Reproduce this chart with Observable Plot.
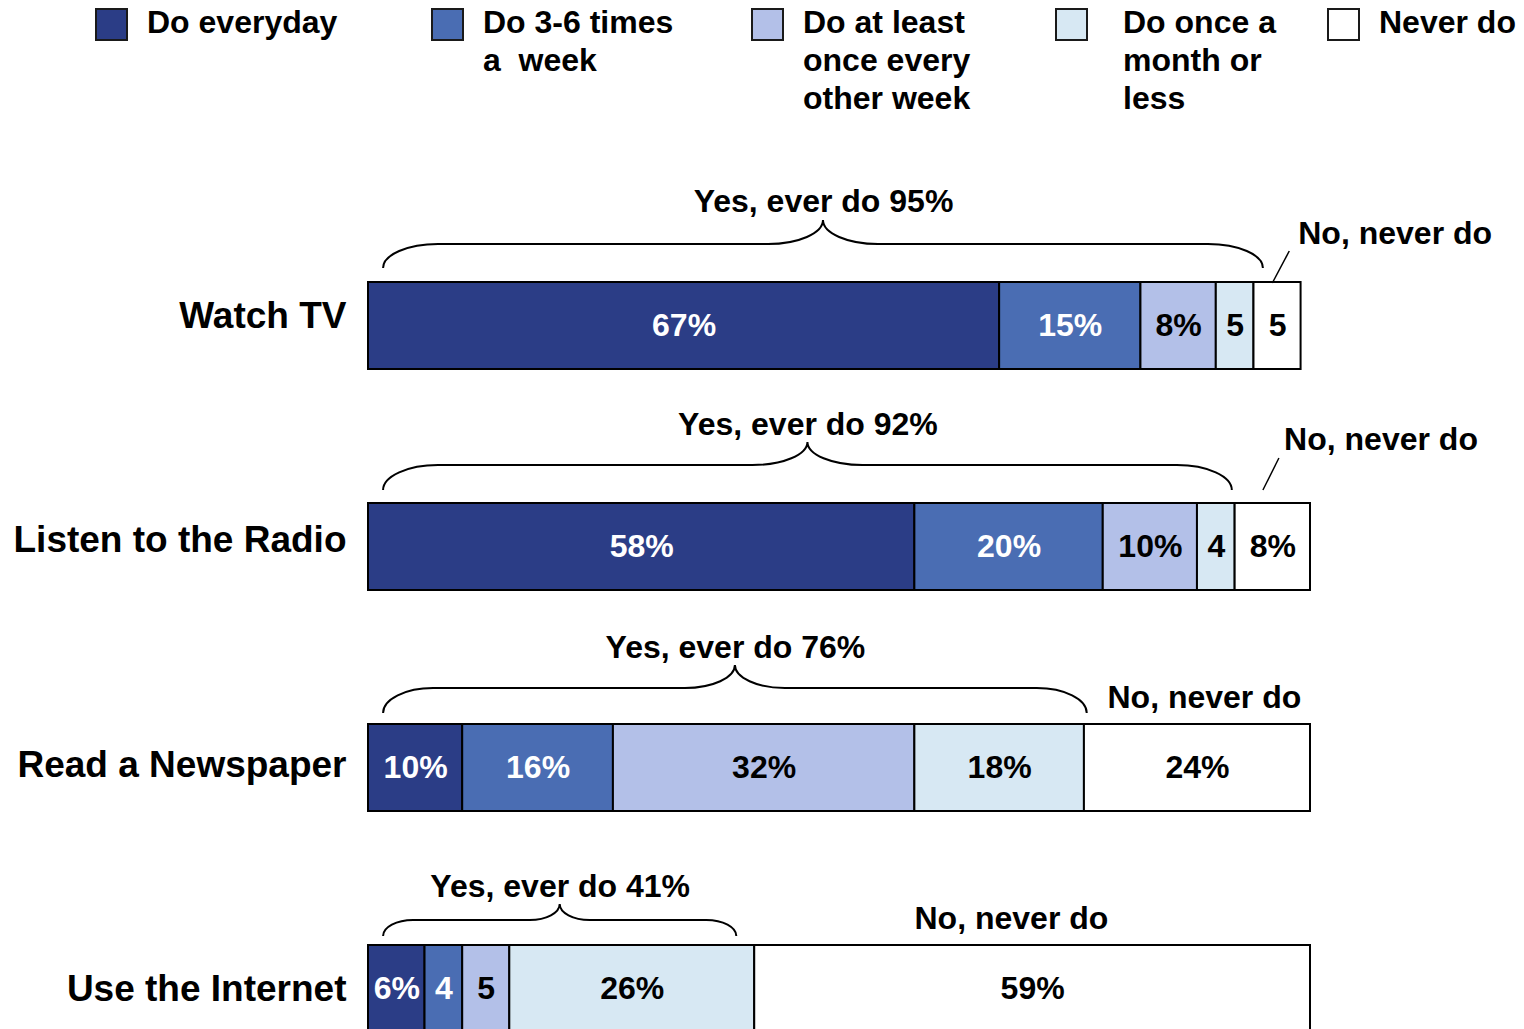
<!DOCTYPE html>
<html>
<head>
<meta charset="utf-8">
<script src="https://cdn.jsdelivr.net/npm/d3@7"></script>
<script src="https://cdn.jsdelivr.net/npm/@observablehq/plot@0.6"></script>
<style>
  html, body { margin: 0; padding: 0; background: #fff; overflow: hidden; }
  body { font-family: "Liberation Sans", Arial, sans-serif; font-weight: bold; color: #000; }
  #legend { position: relative; width: 1524px; height: 130px; }
  .sw { position: absolute; top: 8px; width: 33px; height: 33px; box-sizing: border-box; border: 2px solid #1a1a1a; }
  .lb { position: absolute; top: 3px; font-size: 32px; line-height: 38px; white-space: pre; }
  #chart svg { display: block; }
</style>
</head>
<body>
<div id="legend"></div>
<div id="chart"></div>
<script>
// ---------------- DATA ----------------
const categories = ["Watch TV", "Listen to the Radio", "Read a Newspaper", "Use the Internet"];
const frequencies = ["Do everyday", "Do 3-6 times a week", "Do at least once every other week", "Do once a month or less", "Never do"];
const legendLines = [
  ["Do everyday"],
  ["Do 3-6 times", "a  week"],
  ["Do at least", "once every", "other week"],
  ["Do once a", "month or", "less"],
  ["Never do"]
];
const doEveryday     = [67, 58, 10, 6];
const do3to6Times    = [15, 20, 16, 4];
const everyOtherWeek = [8, 10, 32, 5];
const monthlyOrLess  = [4, 4, 18, 26];
const neverDo        = [5, 8, 24, 59];

const everydayLabels  = ["67%", "58%", "10%", "6%"];
const do3to6Labels    = ["15%", "20%", "16%", "4"];
const otherWeekLabels = ["8%", "10%", "32%", "5"];
const monthlyLabels   = ["5", "4", "18%", "26%"];
const neverLabels     = ["5", "8%", "24%", "59%"];

const yesEverDo = [95, 92, 76, 41];
const neverText = "No, never do";

const colors = ["#2b3d86", "#4a6db3", "#b3c0e8", "#d7e8f3", "#ffffff"];

// ---------------- LAYOUT ----------------
const FONT = '"Liberation Sans", Arial, sans-serif';
const swatchLeft = [95, 431, 751, 1055, 1327];
const labelLeft  = [147, 483, 803, 1123, 1379];

// brace / annotation geometry per row (x in % units, y offsets in px from bar top)
const annot = [
  {from: 1.6, to: 95.0, end: -14, line: -38, tip: -62, rx: 55, yesDy: -81, noX: 98.7,  noAnchor: "start",  noDy: -49, slash: [97.8, -31, 96.0, 1]},
  {from: 1.6, to: 91.7, end: -13, line: -38, tip: -61, rx: 55, yesDy: -79, noX: 97.2,  noAnchor: "start",  noDy: -64, slash: [96.7, -45, 95.0, -13]},
  {from: 1.6, to: 76.3, end: -11, line: -36, tip: -59, rx: 50, yesDy: -77, noX: 78.45, noAnchor: "start",  noDy: -27, slash: null},
  {from: 1.6, to: 39.1, end: -9,  line: -25, tip: -41, rx: 30, yesDy: -59, noX: 68.25, noAnchor: "middle", noDy: -27, slash: null}
];
const catDy = [-10, -7, -3, 0];

// ---------------- LEGEND ----------------
const legend = document.getElementById("legend");
frequencies.forEach((f, j) => {
  const sw = document.createElement("div");
  sw.className = "sw";
  sw.style.left = swatchLeft[j] + "px";
  sw.style.background = colors[j];
  legend.appendChild(sw);
  const lb = document.createElement("div");
  lb.className = "lb";
  lb.style.left = labelLeft[j] + "px";
  lb.textContent = legendLines[j].join("\n");
  legend.appendChild(lb);
});

// ---------------- TABLE ----------------
const seriesValues = [doEveryday, do3to6Times, everyOtherWeek, monthlyOrLess, neverDo];
const seriesLabels = [everydayLabels, do3to6Labels, otherWeekLabels, monthlyLabels, neverLabels];
const rows = [];
categories.forEach((c, i) => {
  frequencies.forEach((f, j) => {
    rows.push({category: c, frequency: f, value: seriesValues[j][i], label: seriesLabels[j][i], light: j >= 2});
  });
});

const yRange = [150, 903];
const padInner = 0.608;
const step = (yRange[1] - yRange[0]) / (categories.length - padInner);
const bw = step * (1 - padInner);

function bracePath(x0, x1, yE, yL, yT, rx) {
  const xm = (x0 + x1) / 2, h1 = yE - yL, h2 = yL - yT;
  return `M${x0},${yE} A${rx},${h1} 0 0 1 ${x0 + rx},${yL} H${xm - rx} A${rx},${h2} 0 0 0 ${xm},${yT} ` +
         `A${rx},${h2} 0 0 0 ${xm + rx},${yL} H${x1 - rx} A${rx},${h1} 0 0 1 ${x1},${yE}`;
}

function annotationLayer(index, scales) {
  const sc = (index && typeof index.x === "function") ? index : scales;
  const g = d3.create("svg:g").attr("fill", "none").attr("stroke", "#000").attr("stroke-width", 2);
  annot.forEach((a, i) => {
    const top = sc.y(categories[i]);
    const x0 = sc.x(a.from), x1 = sc.x(a.to);
    const rx = Math.min(a.rx, (x1 - x0) / 5);
    g.append("path").attr("d", bracePath(x0, x1, top + a.end, top + a.line, top + a.tip, rx));
    if (a.slash) {
      g.append("line")
        .attr("x1", sc.x(a.slash[0])).attr("y1", top + a.slash[1])
        .attr("x2", sc.x(a.slash[2])).attr("y2", top + a.slash[3])
        .attr("stroke-width", 1.5);
    }
  });
  return g.node();
}

const marks = [
  Plot.barX(rows, Plot.stackX({x: "value", y: "category", fill: "frequency", z: "frequency", stroke: "#000", strokeWidth: 2})),
  Plot.text(rows, Plot.stackX({x: "value", y: "category", z: "frequency", text: d => d.light ? null : d.label, fill: "#fff", fontSize: 32, fontWeight: "bold"})),
  Plot.text(rows, Plot.stackX({x: "value", y: "category", z: "frequency", text: d => d.light ? d.label : null, fill: "#000", fontSize: 32, fontWeight: "bold"})),
  annotationLayer
];

categories.forEach((c, i) => {
  const a = annot[i];
  marks.push(Plot.text([c], {y: d => d, frameAnchor: "left", textAnchor: "end", dx: -22, dy: catDy[i], fontSize: 37, fontWeight: "bold", fill: "#000"}));
  marks.push(Plot.text([{x: (a.from + a.to) / 2, y: c, t: `Yes, ever do ${yesEverDo[i]}%`}],
    {x: "x", y: "y", text: "t", dy: a.yesDy - bw / 2, fontSize: 32, fontWeight: "bold", fill: "#000"}));
  marks.push(Plot.text([{x: a.noX, y: c, t: neverText}],
    {x: "x", y: "y", text: "t", textAnchor: a.noAnchor, dy: a.noDy - bw / 2, fontSize: 32, fontWeight: "bold", fill: "#000"}));
});

const plot = Plot.plot({
  width: 1524,
  height: 900,
  marginLeft: 368,
  marginRight: 214,
  marginTop: 0,
  marginBottom: 0,
  style: {fontFamily: FONT, background: "transparent", overflow: "visible"},
  x: {domain: [0, 100], axis: null},
  y: {domain: categories, range: yRange, paddingInner: padInner, paddingOuter: 0, axis: null},
  color: {domain: frequencies, range: colors},
  marks
});
document.getElementById("chart").appendChild(plot);
</script>
</body>
</html>
